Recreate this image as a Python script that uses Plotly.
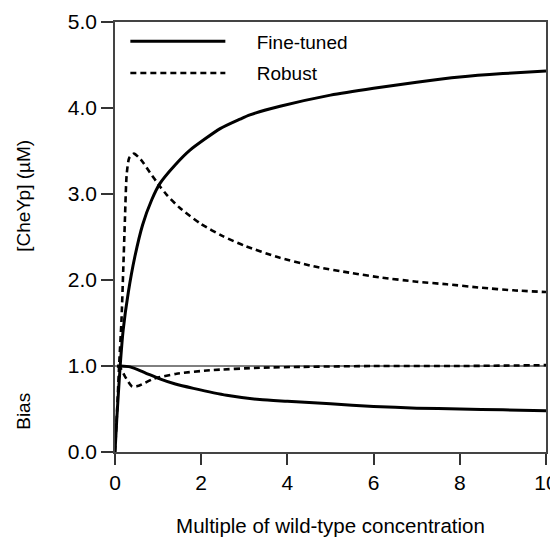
import plotly.graph_objects as go

# Fine-tuned model: [CheYp] (uM)
ft_x = [0, 0.04, 0.12, 0.19, 0.31, 0.46, 0.64, 0.85, 1.04, 1.4, 1.74, 2.44, 2.9, 3.13, 3.83, 5.0, 6.0, 7.0, 8.0, 9.0, 10.0]
ft_y = [0, 0.37, 1.0, 1.42, 1.86, 2.27, 2.64, 2.93, 3.12, 3.34, 3.51, 3.76, 3.87, 3.92, 4.02, 4.15, 4.23, 4.30, 4.36, 4.40, 4.43]

# Robust model: [CheYp] (uM)
rb_x = [0, 0.05, 0.1, 0.15, 0.19, 0.23, 0.27, 0.33, 0.44, 0.6, 0.81, 1.04, 1.2, 1.5, 2.0, 2.5, 3.0, 3.75, 4.6, 5.5, 6.15, 7.0, 7.7, 8.5, 9.24, 10.0]
rb_y = [0, 0.5, 1.05, 1.53, 2.1, 2.7, 3.22, 3.42, 3.47, 3.40, 3.25, 3.09, 2.99, 2.84, 2.65, 2.51, 2.40, 2.27, 2.16, 2.08, 2.03, 1.98, 1.95, 1.91, 1.88, 1.86]

# Bias, fine-tuned
ftb_x = [0.05, 0.12, 0.35, 0.66, 1.04, 1.4, 1.82, 2.59, 3.36, 4.0, 5.0, 6.0, 7.0, 8.0, 9.0, 10.0]
ftb_y = [1.0, 1.0, 0.99, 0.93, 0.85, 0.79, 0.74, 0.66, 0.61, 0.59, 0.56, 0.53, 0.51, 0.50, 0.49, 0.48]

# Bias, robust
rbb_x = [0.05, 0.12, 0.23, 0.4, 0.55, 0.89, 1.43, 2.2, 3.36, 4.36, 6.0, 8.0, 10.0]
rbb_y = [1.0, 0.98, 0.88, 0.76, 0.77, 0.85, 0.91, 0.95, 0.98, 0.99, 1.0, 1.0, 1.01]

# Reference level
ref_x = [0, 10]
ref_y = [1, 1]

x_ticks = [0, 2, 4, 6, 8, 10]
y_ticks = [0, 1, 2, 3, 4, 5]
y_ticklabels = ["0.0", "1.0", "2.0", "3.0", "4.0", "5.0"]

FONT = "Liberation Sans, Arial, Helvetica, sans-serif"
NB = "\u00a0" * 5
solid = dict(color="black", width=3)
dashed = dict(color="black", width=2.6, dash="6px,4px")

fig = go.Figure()
fig.add_trace(go.Scatter(x=ref_x, y=ref_y, mode="lines", line=dict(color="black", width=1),
                         showlegend=False, hoverinfo="skip"))
fig.add_trace(go.Scatter(x=ft_x, y=ft_y, mode="lines", name=NB + "Fine-tuned", legendgroup="a",
                         line=dict(shape="spline", smoothing=0.6, **solid)))
fig.add_trace(go.Scatter(x=rb_x, y=rb_y, mode="lines", name=NB + "Robust", legendgroup="b",
                         line=dict(shape="spline", smoothing=0.6, **dashed)))
fig.add_trace(go.Scatter(x=ftb_x, y=ftb_y, mode="lines", name="Fine-tuned bias", legendgroup="a",
                         showlegend=False, line=dict(shape="spline", smoothing=0.6, **solid)))
fig.add_trace(go.Scatter(x=rbb_x, y=rbb_y, mode="lines", name="Robust bias", legendgroup="b",
                         showlegend=False, line=dict(shape="spline", smoothing=0.6, **dashed)))

# the page body has an 8px margin, so the figure is sized 8px smaller than the window
fig.update_layout(
    width=550, height=529,
    margin=dict(l=107, r=12, t=14, b=85, autoexpand=False),
    paper_bgcolor="white", plot_bgcolor="white",
    font=dict(family=FONT, size=21, color="black"),
    legend=dict(x=0.024, y=0.999, xanchor="left", yanchor="top", bgcolor="rgba(0,0,0,0)",
                font=dict(size=19), itemwidth=95, tracegroupgap=4, traceorder="grouped"),
    xaxis=dict(range=[0, 10], tickvals=x_ticks, ticks="outside", ticklen=11, tickwidth=1.5,
               tickcolor="#333", showline=True, linecolor="#444", linewidth=1.5, mirror=True,
               showgrid=False, zeroline=False, automargin=False,
               title=dict(text="Multiple of wild-type concentration", font=dict(size=20.5), standoff=33)),
    yaxis=dict(range=[0, 5], tickvals=y_ticks, ticktext=y_ticklabels, ticks="outside", ticklen=12,
               tickwidth=1.5, tickcolor="#333", showline=True, linecolor="#444", linewidth=1.5,
               mirror=True, showgrid=False, zeroline=False, automargin=False),
    annotations=[
        dict(text="[CheYp] (µM)", xref="paper", yref="paper", x=-0.212, y=0.595, textangle=-90,
             showarrow=False, font=dict(size=19), xanchor="center", yanchor="middle"),
        dict(text="Bias", xref="paper", yref="paper", x=-0.212, y=0.095, textangle=-90,
             showarrow=False, font=dict(size=19), xanchor="center", yanchor="middle"),
    ],
)

fig.write_html("out.html")
